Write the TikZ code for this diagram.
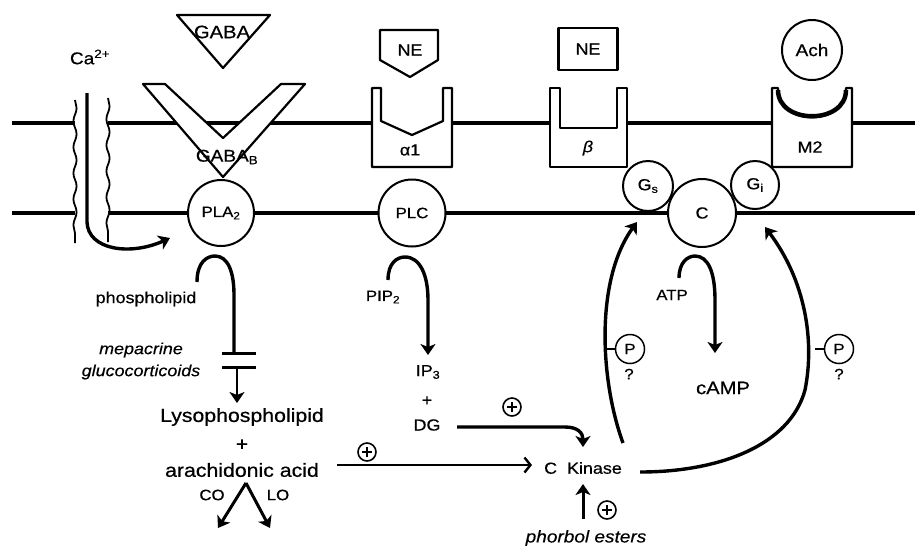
\documentclass[tikz,border=0pt]{standalone}
\usepackage{fontspec}
\setmainfont[FakeStretch=1.12, UprightFeatures={FakeBold=0.6}, ItalicFeatures={FakeBold=0.4}]{Liberation Sans}
\usetikzlibrary{arrows.meta,decorations.pathmorphing}

\tikzset{
  membrane/.style={line width=4pt},
  wall/.style={line width=1.8pt, decorate, decoration={snake, segment length=26pt, amplitude=1.6pt}},
  receptor/.style={draw, line width=2.2pt, line join=round},
  prot/.style={circle, draw, line width=2pt, fill=white, inner sep=0pt},
  flow/.style={line width=3.4pt, -{Stealth[length=11pt,width=15pt,inset=3pt]}},
  thinflow/.style={line width=2.4pt, -{Straight Barb[length=6pt,width=15pt,line width=2.4pt]}},
  pluscirc/.style={circle, draw, line width=1.6pt, minimum size=18pt, inner sep=0pt, path picture={
      \draw[line width=2.6pt] ([xshift=-5pt]path picture bounding box.center) -- ([xshift=5pt]path picture bounding box.center);
      \draw[line width=2.6pt] ([yshift=-5pt]path picture bounding box.center) -- ([yshift=5pt]path picture bounding box.center);}},
  smalltxt/.style={font=\fontsize{15}{16}\selectfont},
  bigtxt/.style={font=\fontsize{19}{22}\selectfont},
  ital/.style={font=\itshape\fontsize{16}{18}\selectfont}
}

\begin{document}
\begin{tikzpicture}[x=1pt, y=-1pt, every node/.style={inner sep=1pt, font=\fontsize{16}{18}\selectfont}]
\useasboundingbox (0,0) rectangle (915,547);

% the two membrane lines, open at the Ca channel
\foreach \y in {123,213}{
    \draw[membrane] (12,\y) -- (75,\y);
    \draw[membrane] (108,\y) -- (915,\y);
}

% Ca channel
\draw[wall] (75,100) -- (75,243);
\draw[wall] (108,98) -- (108,242);
\node[font=\fontsize{17}{18}\selectfont] (ca) at (90,57) {Ca\textsuperscript{2+}};
\coordinate (catop) at (87,93);
\coordinate (cain) at (170,238);
\draw[flow] (catop) -- (87,222) .. controls (88,250) and (130,256) .. (cain);

% proteins sitting in the inner line
\begin{scope}[every node/.style={prot, font=\fontsize{15}{16}\selectfont}]
    \node[minimum size=66pt] (pla) at (221,213) {PLA\textsubscript{2}};
    \node[minimum size=67pt] (plc) at (412,213) {PLC};
    \node[minimum size=50pt, font=\fontsize{16}{16}\selectfont] (gs) at (648,186) {G\textsubscript{s}};
    \node[minimum size=48pt, font=\fontsize{16}{16}\selectfont] (gi) at (755,185) {G\textsubscript{i}};
    \node[minimum size=68pt, font=\fontsize{16}{16}\selectfont] (cyc) at (702,213) {C};
\end{scope}

% GABA and its receptor
\draw[receptor, fill=white] (177,15) -- (270,15) -- (223,68) -- cycle;
\node[font=\fontsize{18}{18}\selectfont] (gaba) at (222,32) {GABA};
\draw[receptor, fill=white] (143,84) -- (165,84) -- (223,138) -- (281,84) -- (305,84) -- (223,177) -- cycle;
\node[font=\fontsize{17}{18}\selectfont] (gabab) at (227,157) {GABA\textsubscript{B}};

% receptors in the outer line
\foreach \xa/\xb in {372/452, 550/627, 772/852}
    \fill[white] (\xa,88) rectangle (\xb,167);

\draw[receptor] (372,88) -- (372,167) -- (452,167) -- (452,88) -- (443,88) -- (443,121) -- (412,135) -- (381,121) -- (381,88) -- cycle;
\node (alpha) at (410,150) {α1};
\draw[receptor, fill=white] (380,30) -- (438,30) -- (438,60) -- (410,77) -- (380,60) -- cycle;
\node (ne1) at (410,50) {NE};

\draw[receptor] (550,88) -- (550,167) -- (627,167) -- (627,88) -- (617,88) -- (617,128) -- (560,128) -- (560,88) -- cycle;
\node (beta) at (588,148) {\itshape β};
\node[receptor, minimum width=59pt, minimum height=42pt] (ne2) at (588,49) {NE};

\draw[receptor] (772,88) -- (772,167) -- (852,167) -- (852,88) -- (846,88) .. controls (846,127) and (778,127) .. (778,88) -- cycle;
\draw[line width=4.5pt] (778,90) .. controls (778,125) and (846,125) .. (846,90);
\node (mtwo) at (810,147) {M2};
\node[prot, minimum size=60pt, font=\fontsize{17}{18}\selectfont] (ach) at (812,50) {Ach};

% PLA2 branch
\node (phl) at (146,299) {phospholipid};
\node[ital] (mep) at (141,350) {mepacrine};
\node[ital] (gluco) at (141,372) {glucocorticoids};
\node[bigtxt] (lyso) at (242,417) {Lysophospholipid};
\node[bigtxt] (plusa) at (242,445) {+};
\node[bigtxt] (arach) at (242,470) {arachidonic acid};
\node[smalltxt] (co) at (212,495) {CO};
\node[smalltxt] (lo) at (278,495) {LO};

\coordinate (plaout) at (197,282);
\coordinate (blocka) at (234,353);
\draw[line width=3.4pt] (plaout) .. controls (197,262) and (207,256) .. (215,256) .. controls (228,256) and (234,272) .. (234,295) -- (blocka);
\draw[line width=3pt] (222,353) -- (256,353);
\draw[line width=3pt] (222,367) -- (256,367);
\coordinate (blockb) at (237,367);
\coordinate (lysotop) at (237,403);
\draw[flow, line width=2.6pt] (blockb) -- (lysotop);

\coordinate (arachout) at (246,483);
\coordinate (coend) at (218,528);
\coordinate (loend) at (270,528);
\draw[flow, line width=3pt] (arachout) -- (coend);
\draw[flow, line width=3pt] (arachout) -- (loend);

% PLC branch
\node[smalltxt] (pip) at (383,297) {PIP\textsubscript{2}};
\node (ipthree) at (428,372) {IP\textsubscript{3}};
\node (plusb) at (427,401) {+};
\node (dg) at (427,425) {DG};
\coordinate (plcout) at (388,280);
\coordinate (ipin) at (428,355);
\draw[flow] (plcout) .. controls (388,263) and (397,257) .. (405,257) .. controls (420,257) and (428,275) .. (428,300) -- (ipin);

% C kinase
\node (ck) at (583,468) {C\ \ Kinase};
\node[ital, font=\itshape\fontsize{17}{18}\selectfont] (phorb) at (586,538) {phorbol esters};
\coordinate (dgout) at (457,427);
\coordinate (ckin) at (583,447);
\draw[flow] (dgout) -- (565,427) .. controls (578,427) and (583,433) .. (ckin);
\coordinate (arachend) at (337,465);
\coordinate (ckleft) at (532,465);
\draw[thinflow] (arachend) -- (ckleft);
\coordinate (phorbtop) at (583,519);
\coordinate (ckbottom) at (583,484);
\draw[flow, line width=3pt] (phorbtop) -- (ckbottom);
\foreach \name/\pos in {pca/{(367,452)}, pcb/{(512,407)}, pcc/{(607,510)}}
    \node[pluscirc] (\name) at \pos {};

% adenylate cyclase
\node[smalltxt] (atp) at (672,295) {ATP};
\node[bigtxt, font=\fontsize{18}{20}\selectfont] (camp) at (723,388) {cAMP};
\coordinate (atpout) at (679,278);
\coordinate (campin) at (715,353);
\draw[flow] (atpout) .. controls (679,262) and (688,256) .. (695,256) .. controls (708,256) and (715,272) .. (715,300) -- (campin);

% feedback of C kinase on Gs and Gi
\coordinate (ckup) at (623,443);
\coordinate (gsin) at (637,222);
\draw[flow] (ckup) .. controls (600,380) and (595,280) .. (gsin);
\coordinate (ckright) at (640,472);
\coordinate (giin) at (765,227);
\draw[flow] (ckright) .. controls (720,472) and (790,445) .. (805,390) .. controls (815,340) and (805,280) .. (giin);

\node[prot, line width=1.5pt, minimum size=29pt, font=\fontsize{15}{16}\selectfont] (pa) at (630,349) {P};
\node[prot, line width=1.5pt, minimum size=29pt, font=\fontsize{15}{16}\selectfont] (pb) at (839,349) {P};
\coordinate (pastub) at (607,349);
\coordinate (pbstub) at (815,349);
\draw[line width=1.3pt] (pastub) -- (pa);
\draw[line width=1.3pt] (pbstub) -- (pb);
\node[smalltxt] (qa) at (629,374) {?};
\node[smalltxt] (qb) at (839,374) {?};
\end{tikzpicture}
\end{document}
